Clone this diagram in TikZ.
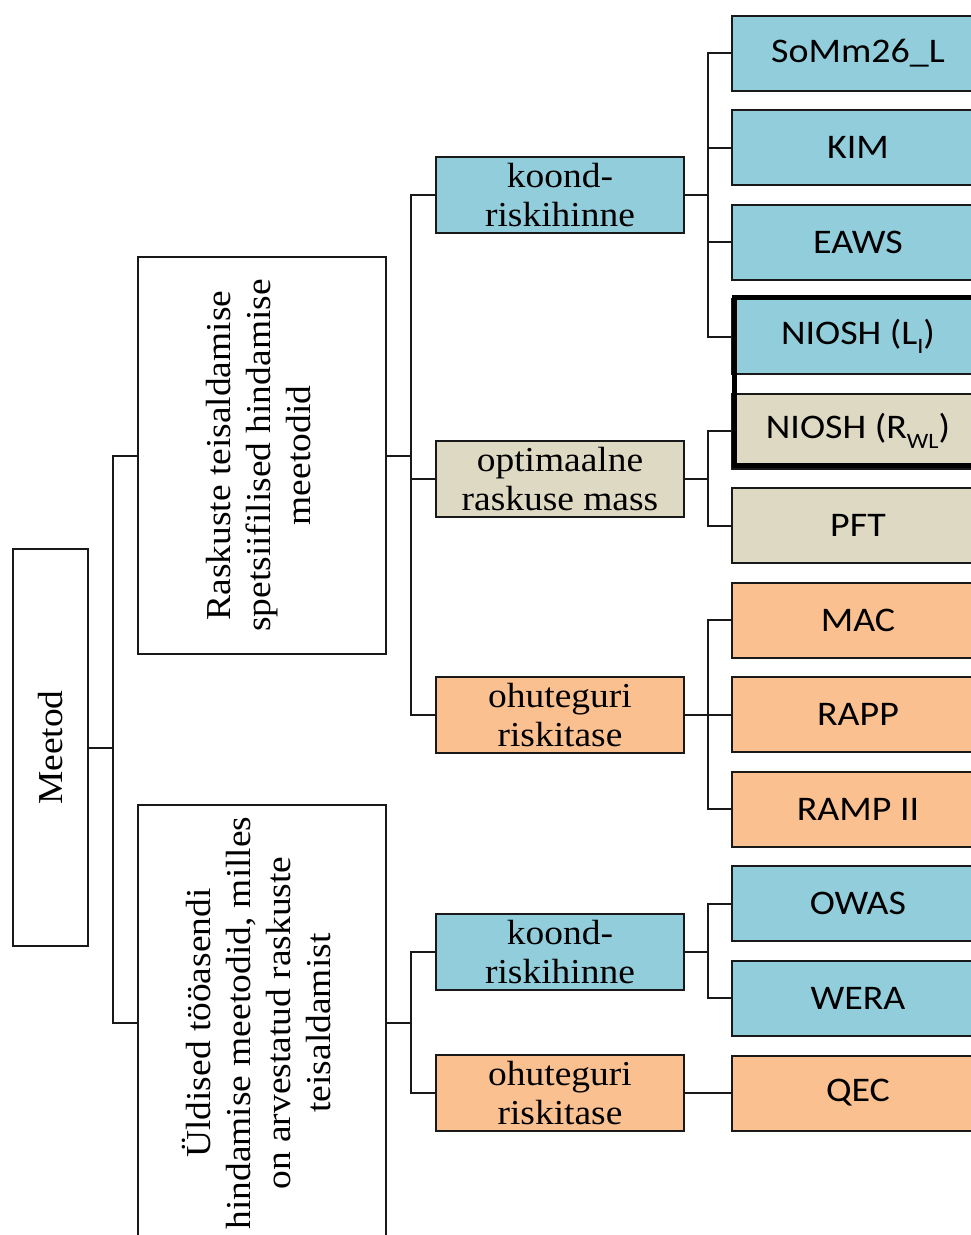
\documentclass[tikz,border=0pt]{standalone}
\usepackage{fontspec}
\setmainfont[FakeStretch=1.07]{Liberation Serif}
\newfontfamily\calibri[FakeStretch=1.1]{Carlito}
\usetikzlibrary{calc}
\definecolor{cblue}{HTML}{92CDDC}
\definecolor{cbeige}{HTML}{DDD9C3}
\definecolor{corange}{HTML}{FAC090}
\tikzset{
  box/.style={draw=black!90, line width=2pt, inner sep=0pt, outer sep=0pt},
  bigbox/.style={box, fill=white, minimum width=248, font=\fontsize{35}{40}\selectfont},
  midbox/.style={box, minimum width=248, minimum height=76, align=center, font=\fontsize{35}{39}\selectfont},
  leaf/.style={box, minimum width=252, minimum height=75, anchor=west, font=\calibri\fontsize{34.5}{36}\selectfont},
  conn/.style={draw=black!90, line width=2pt},
  nioshframe/.style={draw=black, line width=5.5pt},
}
\newcommand{\subtxt}[1]{\raisebox{-0.28em}{\fontsize{22}{22}\selectfont #1}}
\begin{document}
\begin{tikzpicture}[x=1pt,y=-1pt]
\useasboundingbox (0,0) rectangle (971,1235);
\clip (0,0) rectangle (971,1235);

% level 0
\node[box, minimum width=75, minimum height=397, font=\fontsize{35}{40}\selectfont] (meetod) at (50.5,747.5) {\rotatebox{90}{Meetod}};

% level 1
\node[bigbox, minimum height=397] (A) at (262,455.5)
  {\rotatebox{90}{\begin{tabular}{@{}c@{}}Raskuste teisaldamise\\ spetsiifilised hindamise\\ meetodid\end{tabular}}};
\node[bigbox, minimum height=436] (B) at (262,1023)
  {\rotatebox{90}{\begin{tabular}{@{}c@{}}Üldised tööasendi\\ hindamise meetodid, milles\\ on arvestatud raskuste\\ teisaldamist\end{tabular}}};

% level 2
\node[midbox, fill=cblue]   (k1) at (560,195)  {koond-\\riskihinne};
\node[midbox, fill=cbeige]  (o1) at (560,479)  {optimaalne\\raskuse mass};
\node[midbox, fill=corange] (r1) at (560,715)  {ohuteguri\\riskitase};
\node[midbox, fill=cblue]   (k2) at (560,952)  {koond-\\riskihinne};
\node[midbox, fill=corange] (r2) at (560,1093) {ohuteguri\\riskitase};

% level 3
\node[leaf, fill=cblue]   (somm)  at (732,53)     {SoMm26\_L};
\node[leaf, fill=cblue]   (kim)   at (732,147.5)  {KIM};
\node[leaf, fill=cblue]   (eaws)  at (732,242)    {EAWS};
\node[leaf, fill=cblue]   (nioshL) at (732,336.5) {NIOSH (L\subtxt{I})};
\node[leaf, fill=cbeige]  (nioshR) at (732,431)   {NIOSH (R\subtxt{WL})};
\node[leaf, fill=cbeige]  (pft)   at (732,525.5)  {PFT};
\node[leaf, fill=corange] (mac)   at (732,620)    {MAC};
\node[leaf, fill=corange] (rapp)  at (732,714.5)  {RAPP};
\node[leaf, fill=corange] (ramp)  at (732,809)    {RAMP II};
\node[leaf, fill=cblue]   (owas)  at (732,903.5)  {OWAS};
\node[leaf, fill=cblue]   (wera)  at (732,998)    {WERA};
\node[leaf, fill=corange] (qec)   at (732,1093)   {QEC};

\draw[nioshframe] ([shift={(2.5,-1.5)}]nioshL.north west) rectangle ([shift={(8,-3)}]nioshR.south east);

% connectors
\foreach \c in {A,B} \draw[conn] (meetod.east) -- ++(25,0) |- (\c.west);
\foreach \c in {k1,o1,r1} \draw[conn] (A.east) -- ++(25,0) |- (\c.west);
\foreach \c in {k2,r2} \draw[conn] (B.east) -- ++(25,0) |- (\c.west);
\foreach \c in {somm,kim,eaws,nioshL} \draw[conn] (k1.east) -- ++(24,0) |- (\c.west);
\foreach \c in {nioshR,pft} \draw[conn] (o1.east) -- ++(24,0) |- (\c.west);
\foreach \c in {mac,rapp,ramp} \draw[conn] (r1.east) -- ++(24,0) |- (\c.west);
\foreach \c in {owas,wera} \draw[conn] (k2.east) -- ++(24,0) |- (\c.west);
\draw[conn] (r2.east) -- (qec.west);
\end{tikzpicture}
\end{document}
